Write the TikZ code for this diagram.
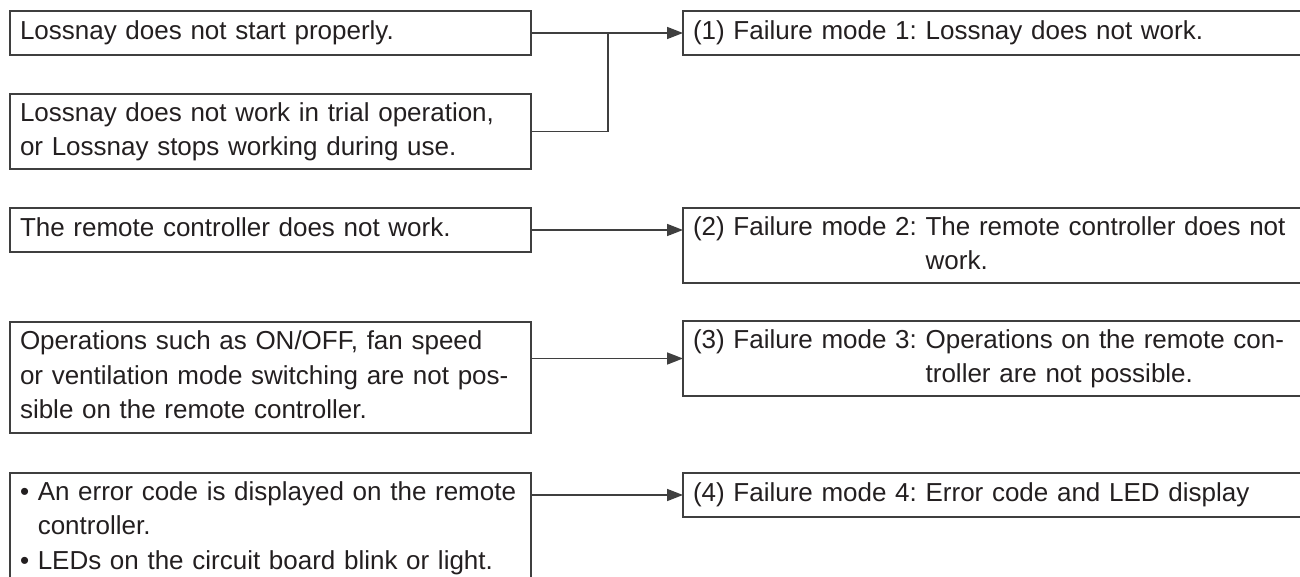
\documentclass[tikz,border=0pt]{standalone}
\usepackage{fontspec}
\setmainfont{Liberation Sans}
\usetikzlibrary{arrows.meta}
\definecolor{txt}{HTML}{231F20}
\definecolor{edge}{HTML}{3F3F3F}
\setlength{\parindent}{0pt}
\frenchspacing
\newcommand{\bxline}[1]{\mbox{\strut#1}}
\begin{document}
\begin{tikzpicture}[x=1pt,y=-1pt,
  box/.style={draw=edge, line width=1.8pt, rectangle, outer sep=0pt,
    inner xsep=10pt, inner ysep=3pt, anchor=north west, align=left,
    text=txt, font=\fontsize{26}{34.5}\selectfont\frenchspacing},
  lbox/.style={box, minimum width=521pt, text width=501pt},
  rbox/.style={box, minimum width=650pt, text width=630pt},
  conn/.style={draw=edge, line width=1.6pt},
  arr/.style={conn, -{Triangle[length=16pt,width=12pt]}}]
\useasboundingbox (0,0) rectangle (1300,577);
\clip (0,0) rectangle (1300,577);

% left boxes
\node[lbox, minimum height=44pt] (l1) at (10,11)
  {\bxline{Lossnay does not start properly.}};
\node[lbox, minimum height=74pt] (l2) at (10,94)
  {\bxline{Lossnay does not work in trial operation,}\\
   \bxline{or Lossnay stops working during use.}};
\node[lbox, minimum height=44pt] (l3) at (10,208)
  {\bxline{The remote controller does not work.}};
\node[lbox, minimum height=111pt] (l4) at (10,322)
  {\bxline{Operations such as ON/OFF, fan speed}\\
   \bxline{or ventilation mode switching are not pos-}\\
   \bxline{sible on the remote controller.}};
\node[lbox] (l5) at (10,473)
  {\bxline{• An error code is displayed on the remote}\\
   \bxline{\hphantom{• }controller.}\\
   \bxline{• LEDs on the circuit board blink or light.}};

% right boxes
\node[rbox, minimum height=44pt] (r1) at (683,11)
  {\bxline{(1) Failure mode 1: Lossnay does not work.}};
\node[rbox, minimum height=74pt] (r2) at (683,208)
  {\bxline{(2) Failure mode 2: The remote controller does not}\\
   \bxline{\hphantom{(2) Failure mode 2: }work.}};
\node[rbox, minimum height=74pt] (r3) at (683,321)
  {\bxline{(3) Failure mode 3: Operations on the remote con-}\\
   \bxline{\hphantom{(3) Failure mode 3: }troller are not possible.}};
\node[rbox, minimum height=44pt] (r4) at (683,473)
  {\bxline{(4) Failure mode 4: Error code and LED display}};

% connectors
\coordinate (j) at (608,33);
\draw[arr] (l1.east) -- (r1.west);
\draw[conn] (l2.east) -| (j);
\draw[arr] (l3.east) -- (l3.east -| r2.west);
\draw[arr] (l4.east |- r3.west) -- (r3.west);
\draw[arr] (l5.east |- r4.west) -- (r4.west);
\end{tikzpicture}
\end{document}
